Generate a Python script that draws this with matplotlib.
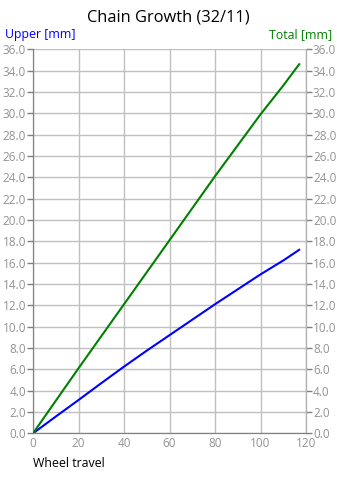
import matplotlib
matplotlib.use("Agg")
import matplotlib.pyplot as plt
from matplotlib.ticker import MultipleLocator, FormatStrFormatter

plt.rcParams['font.family'] = ['Open Sans', 'DejaVu Sans']

travel = [0, 10, 20, 30, 40, 50, 60, 70, 80, 90, 100, 110, 117]
total = [0, 3.05, 6.1, 9.1, 12.1, 15.1, 18.1, 21.1, 24.1, 27.0, 29.9, 32.6, 34.6]
upper = [0, 1.57, 3.12, 4.7, 6.25, 7.75, 9.2, 10.65, 12.1, 13.5, 14.9, 16.2, 17.2]

title = "Chain Growth (32/11)"
left_label = "Upper [mm]"
right_label = "Total [mm]"
x_label = "Wheel travel"

fig = plt.figure(figsize=(3.37, 4.83), dpi=100)
ax = fig.add_axes([0.098, 0.1029, 0.81, 0.795])
ax2 = ax.twinx()

ax.plot(travel, upper, color='#0000ff', lw=1.5, zorder=3)
ax2.plot(travel, total, color='#008000', lw=1.5, zorder=3)

for a in (ax, ax2):
    a.set_ylim(0, 36)
    a.yaxis.set_major_locator(MultipleLocator(2))
    a.yaxis.set_major_formatter(FormatStrFormatter('%.1f'))
ax.set_xlim(0, 120)
ax.xaxis.set_major_locator(MultipleLocator(20))

ax.grid(True, color='#c0c0c0', lw=1)
ax.set_axisbelow(True)

lab_col = '#939393'
ax.tick_params(axis='y', direction='out', length=4, width=1, color='#808080',
               labelsize=8.5, labelcolor=lab_col, pad=1)
ax.tick_params(axis='x', direction='out', length=0, labelsize=8.5, labelcolor=lab_col, pad=3)
ax2.tick_params(axis='y', direction='out', length=4, width=1, color='#808080',
                labelsize=8.5, labelcolor=lab_col, pad=1)

for a in (ax, ax2):
    a.spines['top'].set_visible(False)
    a.spines['left'].set_color('#808080')
    a.spines['bottom'].set_color('#808080')
    a.spines['right'].set_color('#b0b0b0')

fig.text(0.5, 0.964, title, ha='center', va='center', fontsize=11.8, color='black')
fig.text(0.016, 0.928, left_label, ha='left', va='center', fontsize=8.9, color='#0000ff')
fig.text(0.987, 0.928, right_label, ha='right', va='center', fontsize=8.9, color='#008000')
fig.text(0.098, 0.040, x_label, ha='left', va='center', fontsize=8.9, color='black')

fig.savefig("out.png", dpi=100)
